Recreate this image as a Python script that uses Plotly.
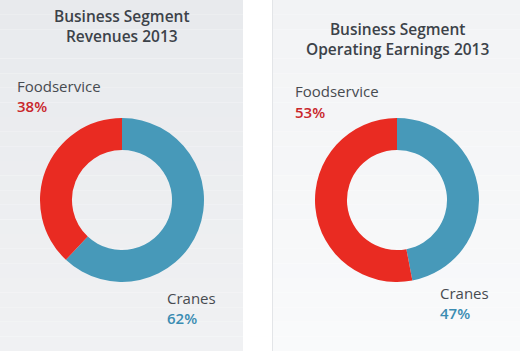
import plotly.graph_objects as go

W, H = 520, 351

segments = ["Cranes", "Foodservice"]
revenues_2013 = [62, 38]
earnings_2013 = [47, 53]
slice_colors = ["#4799b9", "#e92b22"]
titles = ["Business Segment<br>Revenues 2013", "Business Segment<br>Operating Earnings 2013"]

FONT = "Open Sans"

def px_x(v):
    return v / W

def px_y(v):
    return 1 - v / H

fig = go.Figure()

# panels (stepped gradient)
shapes = []
def panel(x0, x1, top, bottom, n=24):
    for i in range(n):
        t = i / (n - 1)
        c = [int(round(top[k] + (bottom[k] - top[k]) * t)) for k in range(3)]
        y0 = H * i / n
        y1 = H * (i + 1) / n
        shapes.append(dict(type="rect", xref="paper", yref="paper",
                           x0=px_x(x0), x1=px_x(x1), y0=px_y(y1), y1=px_y(y0),
                           fillcolor=f"rgb({c[0]},{c[1]},{c[2]})", line=dict(width=0), layer="below"))

panel(0, 243, (232, 234, 237), (240, 241, 243))
panel(272, 520, (242, 243, 245), (249, 250, 251))
shapes.append(dict(type="line", xref="paper", yref="paper", x0=px_x(272.5), x1=px_x(272.5),
                   y0=0, y1=1, line=dict(color="#e3e5e8", width=1), layer="below"))

def add_donut(values, cx, cy, r):
    fig.add_trace(go.Pie(
        labels=segments, values=values, sort=False, direction="clockwise", rotation=0,
        hole=0.61, marker=dict(colors=slice_colors, line=dict(width=0)),
        textinfo="none", hoverinfo="label+percent", showlegend=False,
        domain=dict(x=[px_x(cx - r), px_x(cx + r)], y=[px_y(cy + r), px_y(cy - r)]),
    ))

add_donut(revenues_2013, 122, 200, 82)
add_donut(earnings_2013, 397, 200, 82)

ann = []
def title(text, cx, cy):
    ann.append(dict(text=text, x=px_x(cx), y=px_y(cy), xref="paper", yref="paper",
                    xanchor="center", yanchor="middle", showarrow=False, align="center",
                    font=dict(family=FONT, size=15.5, color="#3c4249", weight=600)))

def label(name, pct, color, x, y_name, y_pct):
    ann.append(dict(text=name, x=px_x(x), y=px_y(y_name), xref="paper", yref="paper",
                    xanchor="left", yanchor="middle", showarrow=False,
                    font=dict(family=FONT, size=15, color="#474b50")))
    ann.append(dict(text=f"{pct}%", x=px_x(x), y=px_y(y_pct), xref="paper", yref="paper",
                    xanchor="left", yanchor="middle", showarrow=False,
                    font=dict(family=FONT, size=15, color=color, weight=600)))

title(titles[0], 122, 26)
title(titles[1], 397, 39)
label(segments[1], revenues_2013[1], "#c9262b", 15, 86, 106)
label(segments[0], revenues_2013[0], "#3b8cb2", 165, 298, 318)
label(segments[1], earnings_2013[1], "#c9262b", 293, 91, 112)
label(segments[0], earnings_2013[0], "#3b8cb2", 438, 293, 313)

fig.update_layout(width=W, height=H, margin=dict(l=0, r=0, t=0, b=0),
                  paper_bgcolor="white", plot_bgcolor="white",
                  shapes=shapes, annotations=ann)

fig.write_html("out.html")
